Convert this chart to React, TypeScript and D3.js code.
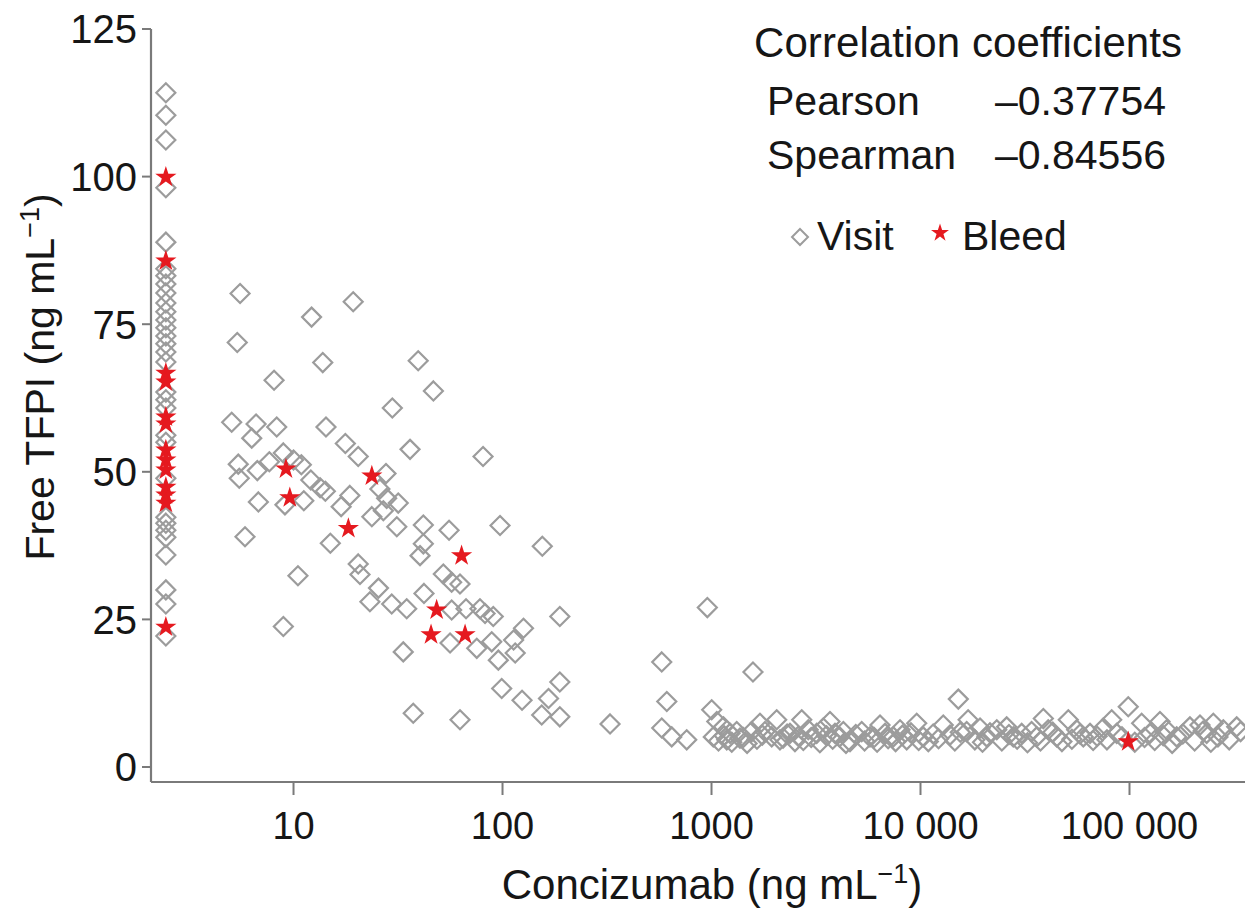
import React from "react";
import * as d3 from "d3";

// ---------- data ----------
// Concizumab below limit of quantification, plotted at this concentration
const BLQ_CONC = 2.45;
const blqVisitTfpi = [
  114.2, 110.4, 106.2, 98.1, 88.9, 84.4, 83.2, 81.8, 80.3, 78.6, 77.1, 75.7, 74.4, 73.0,
  71.7, 70.3, 68.6, 63.5, 62.2, 60.8, 56.2, 55.0, 48.9, 42.3, 41.3, 40.1, 38.9, 35.9, 30.0,
  27.6, 22.2,
];
const blqBleedTfpi = [99.9, 85.7, 66.7, 65.2, 59.3, 58.1, 53.7, 52.0, 50.3, 47.4, 46.1, 44.7, 23.7];

// [concentration ng/mL, free TFPI ng/mL]
const visitsRising: [number, number][] = [
  [5.06, 58.4], [5.38, 71.9], [5.55, 80.2], [5.44, 51.3], [5.5, 48.9], [5.86, 39.0],
  [6.31, 55.7], [6.62, 58.1], [6.71, 50.2], [6.79, 44.9], [7.66, 51.7], [8.07, 65.5],
  [8.31, 57.6], [8.94, 53.2], [8.94, 23.8], [9.1, 44.4], [10.0, 52.0], [10.9, 51.2],
  [10.5, 32.4], [11.2, 45.1], [12.1, 48.6], [12.2, 76.2], [13.4, 47.3], [14.2, 46.7],
  [13.8, 68.5], [14.3, 57.6], [15.0, 37.9], [16.9, 44.1], [17.7, 54.8], [18.6, 46.0],
  [19.3, 78.8], [20.4, 52.6], [20.4, 34.4], [20.8, 32.6], [23.7, 42.4], [23.2, 28.0],
  [25.5, 30.3], [25.9, 47.1], [26.9, 43.4], [27.7, 49.7], [27.9, 45.5], [29.7, 60.8],
  [29.5, 27.6], [31.2, 40.7], [31.7, 44.7], [33.5, 19.5], [34.8, 26.8], [36.1, 53.8],
  [37.4, 9.1], [39.5, 68.8], [40.3, 35.8], [41.8, 41.0], [41.8, 37.8], [42.1, 29.4],
  [46.7, 63.7], [52.1, 32.7], [55.5, 40.1], [56.1, 21.0], [57.1, 31.3], [57.1, 26.6],
  [62.6, 31.0], [62.6, 8.0], [66.9, 26.8], [75.3, 20.1], [78.0, 26.8], [80.7, 52.6],
  [82.5, 26.0], [88.8, 21.2], [90.3, 25.5], [95.5, 18.1], [97.3, 40.9], [99.1, 13.3],
  [113, 21.5], [115, 19.3], [124, 11.3], [126, 23.5], [154, 8.8], [155, 37.4],
  [166, 11.6], [188, 25.5], [188, 14.4], [188, 8.5], [327, 7.3], [578, 17.8],
  [578, 6.6], [611, 11.1], [645, 5.1], [761, 4.6], [955, 27.0], [1002, 9.7],
];

const visitsPlateau: [number, number][] = [
  [1060, 7.7], [1020, 5.1], [1140, 6.8], [1227, 5.7], [1183, 4.6], [1320, 6.0],
  [1368, 4.9], [1557, 6.0], [1579, 16.1], [1706, 7.4], [1802, 6.0], [2051, 8.0], [1941, 5.1],
  [2126, 4.6], [2374, 5.7], [2508, 4.3], [2702, 8.0], [2904, 6.3], [3187, 5.7],
  [3428, 6.6], [3689, 7.7], [3898, 5.7], [4274, 6.0], [4600, 4.3], [5232, 6.0],
  [5733, 5.1], [6401, 7.1], [6764, 5.7], [7413, 5.1], [7980, 6.3], [8590, 4.6],
  [9590, 7.4], [10300, 5.1], [10900, 4.3], [12850, 7.1], [13840, 5.4], [15170, 11.5],
  [16900, 8.0], [16630, 6.0], [19270, 6.6], [20750, 5.1], [23170, 6.3], [25840, 6.8],
  [27800, 5.1], [30480, 5.7], [38700, 8.2], [40850, 6.3], [35970, 5.1], [44850, 5.1],
  [50950, 8.0], [55870, 6.3], [60120, 5.1], [64730, 5.7], [74970, 6.6], [82200, 8.0],
  [86850, 5.7], [98640, 10.2], [114300, 7.4], [125300, 5.7], [139900, 7.7], [150600, 6.3],
  [168200, 5.1], [194600, 6.8], [217400, 7.1], [234000, 5.7], [251800, 7.4], [281100, 6.3],
  [325800, 6.8],
  [1080, 4.4], [1150, 5.3], [1250, 4.2], [1420, 5.0], [1480, 4.0], [1650, 4.7], [1750, 5.4],
  [2200, 4.9], [2300, 5.6], [2600, 5.2], [2750, 4.5], [3000, 5.0], [3300, 4.1], [3550, 5.3],
  [3800, 4.7], [4100, 5.1], [4400, 4.0], [4900, 5.5], [5400, 4.4], [6000, 5.0], [6200, 4.2],
  [7000, 4.8], [7600, 4.3], [8200, 5.4], [9000, 5.8], [9800, 4.5], [11500, 5.6], [12200, 4.8],
  [14600, 4.4], [15500, 5.9], [18200, 4.6], [19800, 4.2], [21500, 5.8], [24500, 4.4],
  [26500, 5.5], [29000, 4.7], [32500, 4.1], [34000, 6.0], [37500, 4.4], [43000, 5.9],
  [47500, 4.3], [53000, 4.7], [58000, 5.6], [67000, 4.5], [70000, 5.2], [78000, 4.6],
  [92000, 5.1], [106000, 4.2], [118000, 5.0], [132000, 4.5], [145000, 5.3], [160000, 4.0],
  [180000, 5.6], [205000, 4.4], [225000, 6.1], [245000, 4.2], [265000, 5.1], [300000, 4.6],
  [340000, 6.0],
];

const bleeds: [number, number][] = [
  [9.2, 50.5], [9.6, 45.6], [18.3, 40.4], [23.7, 49.3], [63.7, 35.8], [48.4, 26.6],
  [45.5, 22.4], [66.2, 22.4], [98600, 4.3],
];

const xTickValues = [10, 100, 1000, 10000, 100000];
const xTickLabels = ["10", "100", "1000", "10 000", "100 000"];
const yTickValues = [0, 25, 50, 75, 100, 125];

const correlationTitle = "Correlation coefficients";
const correlationNames = ["Pearson", "Spearman"];
const correlationValues = ["\u20130.37754", "\u20130.84556"];
const legendLabels = ["Visit", "Bleed"];

// ---------- styles ----------
const FONT = "'Liberation Sans', Arial, Helvetica, sans-serif";
const AXIS_COLOR = "#7a7a7a";
const TEXT_COLOR = "#161616";
const DIAMOND_COLOR = "#9c9c9c";
const STAR_COLOR = "#e5191f";

const W = 1245;
const H = 910;
const X0 = 151;
const X1 = 1245;
const YTOP = 29;
const YBOT = 782;

const diamondPath = (r: number) => `M0,${-r}L${r},0L0,${r}L${-r},0Z`;

export default function App() {
  const x = d3.scaleLog().domain([2.08, 357000]).range([X0, X1]);
  const y = d3.scaleLinear().domain([-2.54, 125]).range([YBOT, YTOP]);
  const star = d3.symbol().type(d3.symbolStar).size(140)() as string;
  const starSmall = d3.symbol().type(d3.symbolStar).size(100)() as string;

  const allVisits: [number, number][] = [
    ...blqVisitTfpi.map((v) => [BLQ_CONC, v] as [number, number]),
    ...visitsRising,
    ...visitsPlateau,
  ];
  const allBleeds: [number, number][] = [
    ...blqBleedTfpi.map((v) => [BLQ_CONC, v] as [number, number]),
    ...bleeds,
  ];

  return (
    <div style={{ position: "fixed", left: 0, top: 0, width: W, height: H, background: "#fff" }}>
      <svg width={W} height={H} style={{ display: "block" }} fontFamily={FONT}>
        <rect width={W} height={H} fill="#fff" />
        {/* axes */}
        <line x1={X0} x2={X0} y1={YTOP} y2={YBOT} stroke={AXIS_COLOR} strokeWidth={2.2} />
        <line x1={X0} x2={X1} y1={YBOT} y2={YBOT} stroke={AXIS_COLOR} strokeWidth={2.2} />
        {yTickValues.map((t) => (
          <g key={"y" + t}>
            <line x1={X0 - 9} x2={X0} y1={y(t)} y2={y(t)} stroke={AXIS_COLOR} strokeWidth={2} />
            <text
              x={X0 - 14}
              y={y(t)}
              dy="0.36em"
              textAnchor="end"
              fontSize={40}
              fill={TEXT_COLOR}
            >
              {t}
            </text>
          </g>
        ))}
        {xTickValues.map((t, i) => (
          <g key={"x" + t}>
            <line x1={x(t)} x2={x(t)} y1={YBOT} y2={YBOT + 13} stroke={AXIS_COLOR} strokeWidth={2} />
            <text x={x(t)} y={839} textAnchor="middle" fontSize={38} fill={TEXT_COLOR}>
              {xTickLabels[i]}
            </text>
          </g>
        ))}
        {/* axis titles */}
        <text x={712} y={899} textAnchor="middle" fontSize={42} fill={TEXT_COLOR}>
          Concizumab (ng mL
          <tspan dy={-16} fontSize={27}>
            {"\u22121"}
          </tspan>
          <tspan dy={16}>)</tspan>
        </text>
        <text
          transform="translate(54,377) rotate(-90)"
          textAnchor="middle"
          fontSize={41}
          fill={TEXT_COLOR}
        >
          Free TFPI (ng mL
          <tspan dy={-15} fontSize={27}>
            {"\u22121"}
          </tspan>
          <tspan dy={15}>)</tspan>
        </text>

        {/* points */}
        <g fill="none" stroke={DIAMOND_COLOR} strokeWidth={2.2}>
          {allVisits.map((d, i) => (
            <path key={"v" + i} d={diamondPath(9.5)} transform={`translate(${x(d[0])},${y(d[1])})`} />
          ))}
        </g>
        <g fill={STAR_COLOR}>
          {allBleeds.map((d, i) => (
            <path key={"b" + i} d={star} transform={`translate(${x(d[0])},${y(d[1])})`} />
          ))}
        </g>

        {/* correlation box */}
        <text x={754} y={57} fontSize={42} fill={TEXT_COLOR} textLength={428} lengthAdjust="spacing">
          {correlationTitle}
        </text>
        {correlationNames.map((n, i) => (
          <g key={n}>
            <text x={767} y={115 + i * 54} fontSize={41} fill={TEXT_COLOR}>
              {n}
            </text>
            <text x={1166} y={115 + i * 54} textAnchor="end" fontSize={41} fill={TEXT_COLOR}>
              {correlationValues[i]}
            </text>
          </g>
        ))}
        {/* legend */}
        <path
          d={diamondPath(8)}
          transform="translate(800,237)"
          fill="none"
          stroke={DIAMOND_COLOR}
          strokeWidth={2}
        />
        <text x={817} y={250} fontSize={41} fill={TEXT_COLOR}>
          {legendLabels[0]}
        </text>
        <path d={starSmall} transform="translate(940,233)" fill={STAR_COLOR} />
        <text x={962} y={250} fontSize={41} fill={TEXT_COLOR}>
          {legendLabels[1]}
        </text>
      </svg>
    </div>
  );
}
